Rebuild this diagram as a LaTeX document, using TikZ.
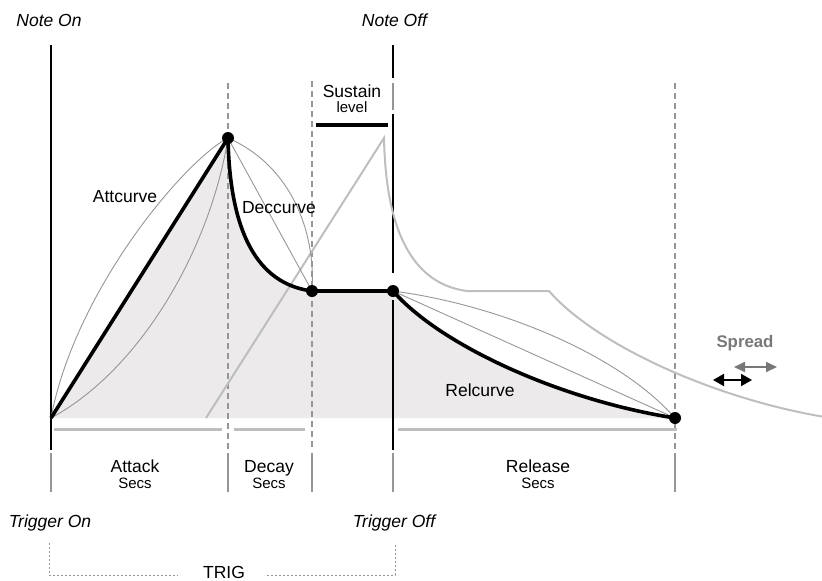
\documentclass[tikz,border=0pt]{standalone}
\usepackage{fontspec}
\setmainfont{Liberation Sans}
\usetikzlibrary{arrows.meta}
\definecolor{fillgray}{RGB}{236,234,235}
\definecolor{lightcurve}{RGB}{190,190,190}
\definecolor{thincurve}{RGB}{150,150,150}
\definecolor{dashgray}{RGB}{150,150,150}
\definecolor{bargray}{RGB}{190,190,190}
\definecolor{txtgray}{RGB}{120,120,120}
\tikzset{
  thick env/.style={line width=3.6pt, black, line join=round},
  thin env/.style={line width=0.9pt, thincurve},
  light env/.style={line width=2pt, lightcurve, line join=miter},
  dotnode/.style={circle, fill=black, inner sep=0pt, minimum size=12pt},
  dashsep/.style={dashgray, line width=1.5pt, dash pattern=on 6pt off 4pt},
  tick/.style={dashgray, line width=1.5pt},
  blackline/.style={black, line width=2pt},
  phasebar/.style={bargray, line width=3pt},
  lbl/.style={inner sep=0pt, anchor=base, font=\fontsize{17.5}{20}\selectfont},
  small/.style={inner sep=0pt, anchor=base, font=\fontsize{15}{17}\selectfont},
  itl/.style={inner sep=0pt, anchor=base, font=\fontsize{17.5}{20}\selectfont\itshape},
  trig/.style={dashgray, line width=1pt, dash pattern=on 2pt off 2pt},
}
\begin{document}
\begin{tikzpicture}[x=1pt,y=-1pt]
\useasboundingbox (0,0) rectangle (822,581);
% key points
\coordinate (A) at (51,418);
\coordinate (P) at (228,138);
\coordinate (S1) at (312,291);
\coordinate (S2) at (393,291);
\coordinate (E) at (675,418);
% fill under envelope
\fill[fillgray] (A) -- (P) .. controls (230,245) and (265,285) .. (S1) -- (S2)
  .. controls (440,345) and (560,400) .. (E) -- cycle;
% dashed vertical lines
\coordinate (d1t) at (228,83); \coordinate (d1b) at (228,450);
\coordinate (d2t) at (312,81); \coordinate (d2b) at (312,450);
\coordinate (d3t) at (675,83); \coordinate (d3b) at (675,450);
\draw[dashsep] (d1t) -- (d1b);
\draw[dashsep] (d2t) -- (d2b);
\draw[dashsep] (d3t) -- (d3b);
% Note On line
\coordinate (n1t) at (51,45); \coordinate (n1b) at (51,450);
\draw[blackline] (n1t) -- (n1b);
% Note Off line
\coordinate (o1) at (393,45); \coordinate (o2) at (393,78);
\coordinate (o3) at (393,83); \coordinate (o4) at (393,110);
\coordinate (o5) at (393,114); \coordinate (o6) at (393,273);
\coordinate (o7) at (393,300); \coordinate (o8) at (393,450);
\draw[blackline] (o1) -- (o2);
\draw[tick] (o3) -- (o4);
\draw[blackline] (o5) -- (o6);
\draw[blackline] (o7) -- (o8);
% sustain level bar
\coordinate (sl1) at (316,125); \coordinate (sl2) at (388,125);
\draw[black, line width=3.2pt] (sl1) -- (sl2);
% shifted light-gray envelope (Spread)
\coordinate (gA) at (206,418);
\coordinate (gP) at (384,138);
\coordinate (gS1) at (467,291);
\coordinate (gS2) at (549,291);
\coordinate (gE) at (831,418);
\begin{scope}
\clip (0,0) rectangle (822,581);
\draw[light env] (gA) -- (gP) .. controls (386,245) and (421,285) .. (gS1) -- (gS2)
  .. controls (596,345) and (716,400) .. (gE);
\end{scope}
% thin alternative curves
\draw[thin env] (A) .. controls (75,290) and (185,160) .. (P);
\draw[thin env] (A) .. controls (140,370) and (210,250) .. (P);
\draw[thin env] (P) -- (S1);
\draw[thin env] (P) .. controls (290,165) and (316,230) .. (S1);
\draw[thin env] (S2) -- (E);
\draw[thin env] (S2) .. controls (500,305) and (620,355) .. (E);
% thick envelope
\draw[thick env] (A) -- (P) .. controls (230,245) and (265,285) .. (S1) -- (S2)
  .. controls (440,345) and (560,400) .. (E);
\node[dotnode] (dP) at (P) {};
\node[dotnode] (dS1) at (S1) {};
\node[dotnode] (dS2) at (S2) {};
\node[dotnode] (dE) at (E) {};
% phase bars
\coordinate (b1a) at (54,429); \coordinate (b1b) at (222,429);
\coordinate (b2a) at (234,429); \coordinate (b2b) at (305,429);
\coordinate (b3a) at (398,429); \coordinate (b3b) at (677,429);
\draw[phasebar] (b1a) -- (b1b);
\draw[phasebar] (b2a) -- (b2b);
\draw[phasebar] (b3a) -- (b3b);
% ticks below
\foreach \x/\n in {51/ta,228/tb,312/tc,393/td,675/te}{
  \coordinate (\n1) at (\x,453); \coordinate (\n2) at (\x,492);
  \draw[tick] (\n1) -- (\n2);
}
% labels
\node[itl] (noteon) at (49,26) {Note On};
\node[itl] (noteoff) at (394.5,26) {Note Off};
\node[lbl] (sustain) at (352,97) {Sustain};
\node[small] (level) at (352,112) {level};
\node[lbl] (attc) at (125,202) {Attcurve};
\node[lbl] (decc) at (279,213) {Deccurve};
\node[lbl] (relc) at (480,396) {Relcurve};
\node[inner sep=0pt, anchor=base, font=\fontsize{16.8}{19}\selectfont\bfseries, text=txtgray] (spread) at (745,347.5) {Spread};
\node[lbl] (attack) at (135,472) {Attack};
\node[small] (s1) at (135,488) {Secs};
\node[lbl] (decay) at (269,472) {Decay};
\node[small] (s2) at (269,488) {Secs};
\node[lbl] (release) at (538,472) {Release};
\node[small] (s3) at (538,488) {Secs};
\node[itl] (trigon) at (50,527) {Trigger On};
\node[itl] (trigoff) at (394,527) {Trigger Off};
\node[lbl] (trigl) at (224,578.5) {TRIG};
% spread arrows
\coordinate (ar1) at (713,380); \coordinate (ar2) at (752,380);
\draw[black, line width=2pt, {Triangle[length=11pt,width=12pt]}-{Triangle[length=11pt,width=12pt]}] (ar1) -- (ar2);
\coordinate (ag1) at (734,367); \coordinate (ag2) at (777,367);
\draw[txtgray, line width=2pt, {Triangle[length=11pt,width=10pt]}-{Triangle[length=11pt,width=10pt]}] (ag1) -- (ag2);
% TRIG bracket
\coordinate (tr1) at (49,543); \coordinate (tr2) at (49,575);
\coordinate (tr3) at (178,575);
\coordinate (tr4) at (267,575); \coordinate (tr5) at (395,575);
\coordinate (tr6) at (395,543);
\draw[trig] (tr1) -- (tr2) -- (tr3);
\draw[trig] (tr4) -- (tr5) -- (tr6);
\end{tikzpicture}
\end{document}
